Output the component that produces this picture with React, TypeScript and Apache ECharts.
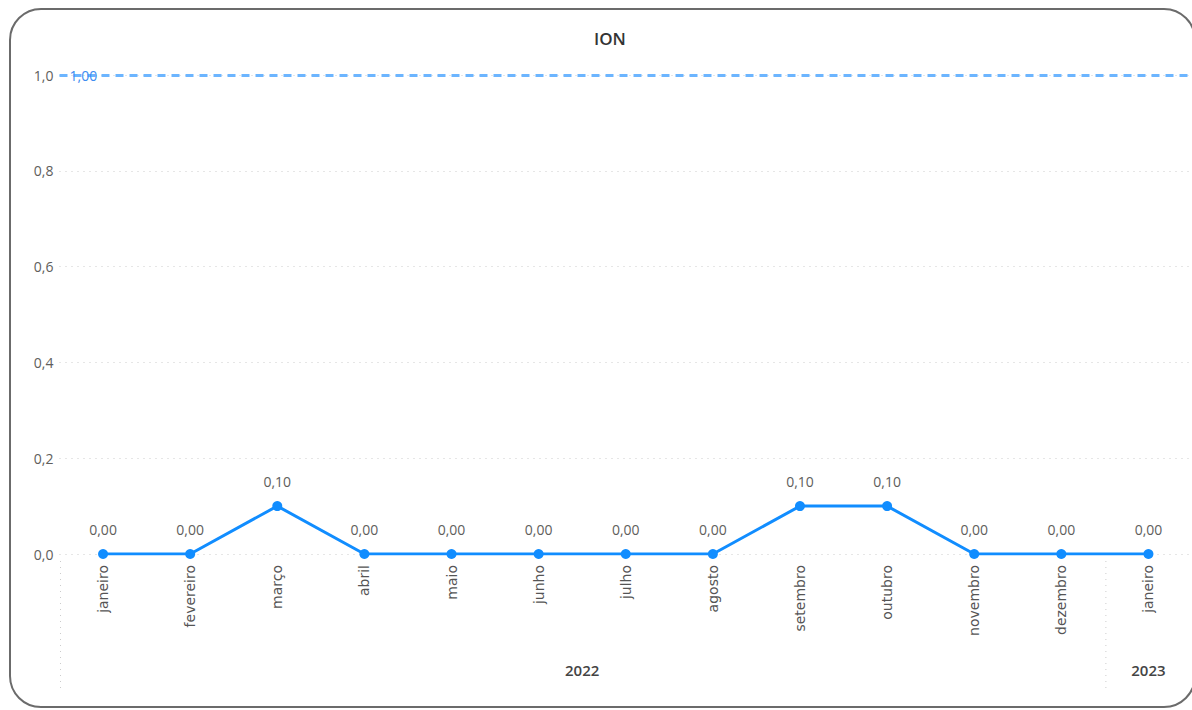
import React, { useEffect, useRef } from "react";
import * as echarts from "echarts";

const title = "ION";
const categories = [
  "janeiro", "fevereiro", "março", "abril", "maio", "junho", "julho",
  "agosto", "setembro", "outubro", "novembro", "dezembro", "janeiro",
];
const values = [0, 0, 0.1, 0, 0, 0, 0, 0, 0.1, 0.1, 0, 0, 0];
const years = ["2022", "2023"];
const yearStart = [0, 12];
const yearEnd = [11, 12];
const referenceValue = 1;
const yTicks = { min: 0, max: 1, interval: 0.2 };

const fmt = (v: number, d: number) => v.toFixed(d).replace(".", ",");
const FONT = "'Open Sans', 'Noto Sans', sans-serif";

export default function App() {
  const ref = useRef<HTMLDivElement>(null);
  useEffect(() => {
    document.body.style.margin = "0";
    const chart = echarts.init(ref.current!, null, { renderer: "svg" });
    chart.setOption({
      animation: false,
      title: {
        text: title,
        left: 589,
        top: 25,
        textStyle: { fontFamily: FONT, fontSize: 17, fontWeight: 600, color: "#333333" },
      },
      grid: { left: 59.5, width: 1133.2, top: 75, bottom: 156, containLabel: false },
      xAxis: {
        type: "category",
        data: categories,
        boundaryGap: true,
        axisLine: { show: false },
        axisTick: { show: false },
        splitLine: { show: false },
        axisLabel: {
          rotate: 90,
          margin: 11,
          interval: 0,
          color: "#555555",
          fontFamily: "'DejaVu Sans', sans-serif",
          fontSize: 14,
        },
      },
      yAxis: {
        type: "value",
        min: yTicks.min,
        max: yTicks.max,
        interval: yTicks.interval,
        axisLine: { show: false },
        axisTick: { show: false },
        axisLabel: {
          margin: 6,
          color: "#605e5c",
          fontFamily: FONT,
          fontSize: 14,
          formatter: (v: number) => fmt(v, 1),
        },
        splitLine: { lineStyle: { color: "#cccccc", type: [1, 5], width: 1 } },
      },
      series: [
        {
          type: "line",
          data: values,
          symbol: "circle",
          symbolSize: 10,
          lineStyle: { color: "#118DFF", width: 3 },
          itemStyle: { color: "#118DFF" },
          label: {
            show: true,
            position: "top",
            distance: 13,
            color: "#605e5c",
            fontFamily: FONT,
            fontSize: 14,
            formatter: (p: any) => fmt(p.value, 2),
          },
          markLine: {
            silent: true,
            symbol: "none",
            lineStyle: { color: "#6cb5ff", type: [8, 6], width: 3 },
            label: {
              show: true,
              position: "insideStart",
              distance: [10, 0],
              color: "#3c8cf0",
              fontFamily: FONT,
              fontSize: 14,
              formatter: () => fmt(referenceValue, 2),
            },
            data: [{ yAxis: referenceValue }],
          },
        },
      ],
    });
    const px = (i: number) => chart.convertToPixel({ xAxisIndex: 0 }, i) as number;
    const bw = px(1) - px(0);
    const graphic: any[] = [];
    years.forEach((y, k) => {
      const cx = (px(yearStart[k]) + px(yearEnd[k])) / 2;
      graphic.push({
        type: "text",
        x: cx,
        y: 670,
        style: {
          text: y,
          fill: "#444444",
          font: `600 15px ${FONT}`,
          textAlign: "center",
          textVerticalAlign: "middle",
        },
      });
      const sx = px(yearStart[k]) - bw / 2 + 1;
      graphic.push({
        type: "line",
        shape: { x1: sx, y1: 561, x2: sx, y2: 688 },
        style: { stroke: "#cccccc", lineWidth: 1, lineDash: [1, 5] },
      });
    });
    chart.setOption({ graphic });
    return () => chart.dispose();
  }, []);
  return (
    <div style={{ position: "relative", width: 1192, height: 710, overflow: "hidden", background: "#fff" }}>
      <div
        style={{
          position: "absolute",
          left: 9,
          top: 8,
          width: 1187,
          height: 700,
          border: "2px solid #6b6b6b",
          borderRadius: 32,
          boxSizing: "border-box",
        }}
      />
      <div ref={ref} style={{ position: "absolute", left: 0, top: 0, width: 1192, height: 710 }} />
    </div>
  );
}
